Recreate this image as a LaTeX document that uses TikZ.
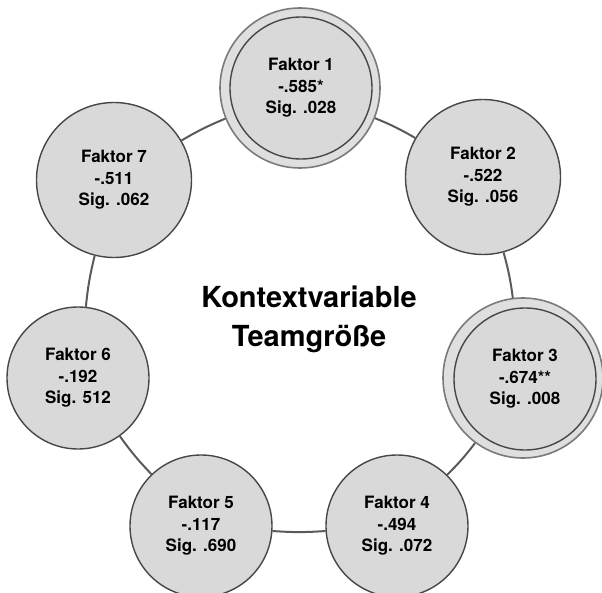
\documentclass[tikz,border=0pt]{standalone}
\usepackage{fontspec}
\setmainfont{TeX Gyre Heros}
\definecolor{cfill}{HTML}{D9D9D9}
\definecolor{cdraw}{HTML}{474747}
\definecolor{couter}{HTML}{7A7A7A}
\definecolor{cline}{HTML}{5A5A5A}
\begin{document}
\begin{tikzpicture}[x=1pt,y=-1pt,
  fak/.style={circle, draw=cdraw, fill=cfill, line width=1.4pt, inner sep=0pt, align=center,
    font=\bfseries\fontsize{17}{21.5}\selectfont},
  small/.style={fak, minimum size=142pt},
  big/.style={fak, minimum size=155pt},
  outerring/.style={circle, draw=couter, fill=cfill!85!white, line width=1.6pt, inner sep=0pt, minimum size=160pt},
  ring/.style={draw=cline, line width=2pt},
  title/.style={align=center, font=\bfseries\fontsize{29}{39}\selectfont}]
\useasboundingbox (0,0) rectangle (602,593);
% double rings
\node[outerring] (o1) at (300,88) {};
\node[outerring] (o3) at (523,378) {};
% factor circles
\node[small] (f1) at (301,88) {Faktor 1\\-.585*\\Sig. .028};
\node[big]   (f2) at (483,177) {Faktor 2\\-.522\\Sig. .056};
\node[small] (f3) at (525,379) {Faktor 3\\-.674**\\Sig. .008};
\node[small] (f4) at (397,526) {Faktor 4\\-.494\\Sig. .072};
\node[small] (f5) at (201,526) {Faktor 5\\-.117\\Sig. .690};
\node[small] (f6) at (78,378)  {Faktor 6\\-.192\\Sig. 512};
\node[big]   (f7) at (114,180) {Faktor 7\\-.511\\Sig. .062};
% connectors
\draw[ring] (o1) to[bend left=4] (f2);
\draw[ring] (f2) to[bend left=4] (o3);
\draw[ring] (o3) to[bend left=4] (f4);
\draw[ring] (f4) to[bend left=4] (f5);
\draw[ring] (f5) to[bend left=4] (f6);
\draw[ring] (f6) to[bend left=4] (f7);
\draw[ring] (f7) to[bend left=4] (o1);
% centre title
\node[title] (t) at (309,319) {Kontextvariable\\Teamgröße};
\end{tikzpicture}
\end{document}
